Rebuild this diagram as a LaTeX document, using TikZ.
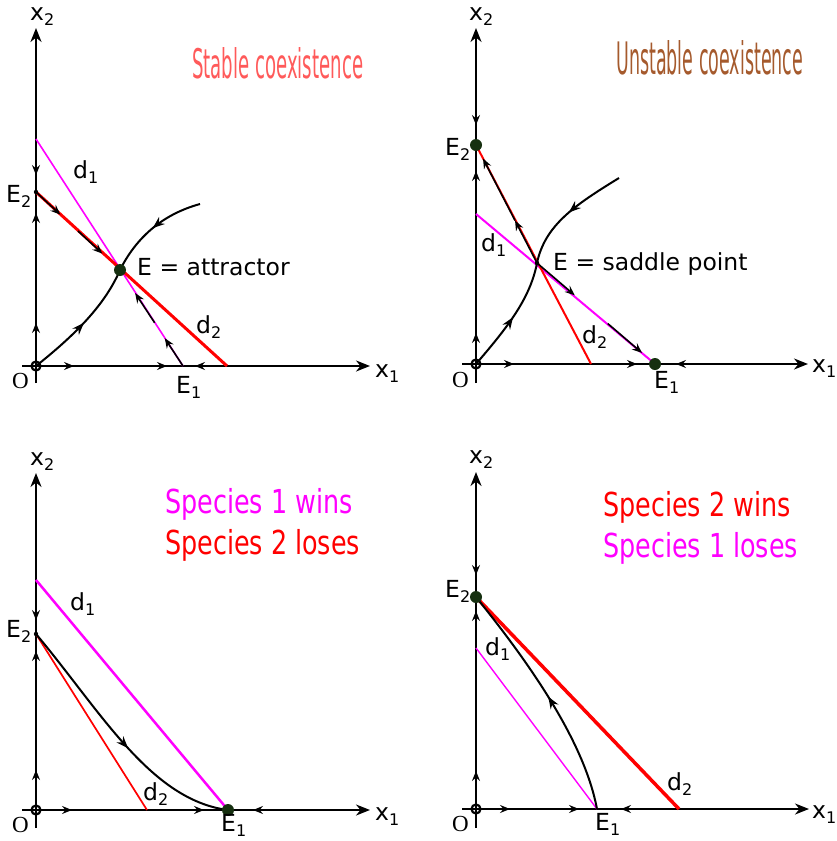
\documentclass[tikz,border=0pt]{standalone}
\usepackage{fontspec}
\setmainfont{DejaVu Sans}
\newfontfamily\oserif{Liberation Serif}
\usetikzlibrary{arrows.meta,decorations.markings,calc}
\definecolor{magc}{RGB}{255,0,255}
\definecolor{redc}{RGB}{255,0,0}
\definecolor{dotc}{RGB}{22,48,16}
\definecolor{stabc}{RGB}{255,90,90}
\definecolor{unstc}{RGB}{165,90,45}
\newcommand\sbs[1]{\raisebox{-0.22em}{\fontsize{16}{16}\selectfont #1}}
\newcommand\spec[1]{\scalebox{0.77}[1]{\fontsize{33}{33}\selectfont #1}}
\tikzset{
  axisline/.style={line width=2pt, -{Stealth[length=14pt,width=11pt,inset=4.5pt]}},
  tipmark/.style={line width=1.6pt, -{Stealth[length=10pt,width=8pt,inset=3.5pt]}},
  curveline/.style={line width=2pt},
  midarr/.style={postaction={decorate}, decoration={markings,
      mark=at position #1 with {\arrow{Stealth[length=12pt,width=9pt,inset=4pt]}}}},
  lbl/.style={font=\fontsize{23.5}{23.5}\selectfont, inner sep=0pt, anchor=base west},
  ovl/.style={font=\oserif\fontsize{23}{23}\selectfont, inner sep=0pt, anchor=base west},
  spc/.style={inner sep=0pt, anchor=base west},
  eqdot/.style={fill=dotc},
  smalldot/.style={fill=black},
  origin/.style={line width=2.2pt}
}
\begin{document}
\begin{tikzpicture}[x=1pt,y=-1pt]
\useasboundingbox (0,0) rectangle (837,841);

% ================= Panel A : stable coexistence =================
\coordinate (aO) at (36,366);
\coordinate (aE2) at (36,192);
\coordinate (aE1) at (183,366);
\coordinate (aE) at (120,270);
\coordinate (aD1) at (36,139);
\coordinate (aD2) at (227,366);
\coordinate (aC) at (200,204);
\coordinate (aYb) at (36,383);
\coordinate (aYt) at (36,28);
\coordinate (aXl) at (22,366);
\coordinate (aXr) at (370,366);
\draw[axisline] (aYb) -- (aYt);
\draw[axisline] (aXl) -- (aXr);
\draw[magc, line width=1.6pt] (aD1) -- (aE1);
\draw[redc, line width=3pt] (aE2) -- (aD2);
\draw[tipmark] (aE2) -- ($(aE2)!0.29!(aE)$);
\draw[tipmark] ($(aE2)!0.5!(aE)$) -- ($(aE2)!0.79!(aE)$);
\draw[tipmark] (aE1) -- ($(aE1)!0.29!(aE)$);
\draw[tipmark] ($(aE1)!0.45!(aE)$) -- ($(aE1)!0.76!(aE)$);
\draw[curveline, midarr=0.5] (aO) .. controls (75,335) and (105,305) .. (aE);
\draw[curveline, midarr=0.5] (aC) .. controls (160,215) and (135,240) .. (aE);
\draw[tipmark] (36,163) -- (36,175);
\draw[tipmark] (36,225) -- (36,213);
\draw[tipmark] (36,335) -- (36,323);
\draw[tipmark] (62,366) -- (74,366);
\draw[tipmark] (155,366) -- (167,366);
\draw[tipmark] (207,366) -- (195,366);
\draw[origin] (aO) circle[radius=4.5pt];
\fill[eqdot] (aE) circle[radius=6pt];
\fill[smalldot] (aE2) circle[radius=2.2pt];
\node[lbl] (ax2) at (30,20) {x\sbs{2}};
\node[lbl] (ax1) at (375,377) {x\sbs{1}};
\node[ovl] (aOl) at (12,388) {O};
\node[lbl] (aE2l) at (6,202) {E\sbs{2}};
\node[lbl] (aE1l) at (176,393) {E\sbs{1}};
\node[lbl] (ad1) at (73,178) {d\sbs{1}};
\node[lbl] (ad2) at (196,333) {d\sbs{2}};
\node[lbl] (aEl) at (137,275) {E = attractor};
\node[inner sep=0pt, anchor=south west, text=stabc] (atitle) at (192,79)
  {\resizebox{171pt}{31pt}{Stable coexistence}};

% ================= Panel B : unstable coexistence =================
\coordinate (bO) at (476,364);
\coordinate (bE2) at (476,145);
\coordinate (bE1) at (655,364);
\coordinate (bE) at (537,263);
\coordinate (bD1) at (476,214);
\coordinate (bD2) at (591,364);
\coordinate (bC) at (619,178);
\coordinate (bYb) at (476,383);
\coordinate (bYt) at (476,28);
\coordinate (bXl) at (462,364);
\coordinate (bXr) at (808,364);
\draw[axisline] (bYb) -- (bYt);
\draw[axisline] (bXl) -- (bXr);
\draw[magc, line width=2pt] (bD1) -- (bE1);
\draw[redc, line width=2pt] (bE2) -- (bD2);
\draw[tipmark] (bE) -- ($(bE)!0.36!(bE2)$);
\draw[tipmark] ($(bE)!0.36!(bE2)$) -- ($(bE)!0.885!(bE2)$);
\draw[tipmark] (bE) -- ($(bE)!0.32!(bE1)$);
\draw[tipmark] ($(bE)!0.6!(bE1)$) -- ($(bE)!0.89!(bE1)$);
\draw[curveline, midarr=0.5] (bO) .. controls (505,330) and (530,300) .. (bE);
\draw[curveline, midarr=0.5] (bC) .. controls (575,205) and (545,225) .. (bE);
\draw[tipmark] (476,113) -- (476,125);
\draw[tipmark] (476,183) -- (476,171);
\draw[tipmark] (476,345) -- (476,333);
\draw[tipmark] (502,364) -- (514,364);
\draw[tipmark] (625,364) -- (637,364);
\draw[tipmark] (688,364) -- (676,364);
\draw[origin] (bO) circle[radius=4.5pt];
\fill[eqdot] (bE2) circle[radius=6pt];
\fill[eqdot] (bE1) circle[radius=6pt];
\fill[smalldot] (bE) circle[radius=2.2pt];
\node[lbl] (bx2) at (469,20) {x\sbs{2}};
\node[lbl] (bx1) at (812,372) {x\sbs{1}};
\node[ovl] (bOl) at (452,387) {O};
\node[lbl] (bE2l) at (445,155) {E\sbs{2}};
\node[lbl] (bE1l) at (654,388) {E\sbs{1}};
\node[lbl] (bd1) at (481,251) {d\sbs{1}};
\node[lbl] (bd2) at (582,343) {d\sbs{2}};
\node[lbl] (bEl) at (553,270) {E = saddle point};
\node[inner sep=0pt, anchor=south west, text=unstc] (btitle) at (616,75)
  {\resizebox{187pt}{34pt}{Unstable coexistence}};

% ================= Panel C : species 1 wins =================
\coordinate (cO) at (36,810);
\coordinate (cE2) at (36,634);
\coordinate (cE1) at (228,810);
\coordinate (cD1) at (36,580);
\coordinate (cD2) at (147,810);
\coordinate (cYb) at (36,828);
\coordinate (cYt) at (36,473);
\coordinate (cXl) at (22,810);
\coordinate (cXr) at (370,810);
\draw[axisline] (cYb) -- (cYt);
\draw[axisline] (cXl) -- (cXr);
\draw[magc, line width=2.5pt] (cD1) -- (cE1);
\draw[redc, line width=1.7pt] (cE2) -- (cD2);
\draw[curveline, midarr=0.55] (cE2) .. controls (100,710) and (150,800) .. (cE1);
\draw[tipmark] (36,608) -- (36,620);
\draw[tipmark] (36,663) -- (36,651);
\draw[tipmark] (36,782) -- (36,770);
\draw[tipmark] (60,810) -- (72,810);
\draw[tipmark] (192,810) -- (204,810);
\draw[tipmark] (265,810) -- (253,810);
\draw[origin] (cO) circle[radius=4.5pt];
\fill[eqdot] (cE1) circle[radius=6pt];
\fill[smalldot] (cE2) circle[radius=2.2pt];
\node[lbl] (cx2) at (30,465) {x\sbs{2}};
\node[lbl] (cx1) at (375,820) {x\sbs{1}};
\node[ovl] (cOl) at (12,832) {O};
\node[lbl] (cE2l) at (6,637) {E\sbs{2}};
\node[lbl] (cE1l) at (221,831) {E\sbs{1}};
\node[lbl] (cd1) at (70,610) {d\sbs{1}};
\node[lbl] (cd2) at (143,800) {d\sbs{2}};
\node[spc, text=magc] (ct1) at (165,513) {\spec{Species 1 wins}};
\node[spc, text=redc] (ct2) at (165,554) {\spec{Species 2 loses}};

% ================= Panel D : species 2 wins =================
\coordinate (dO) at (476,809);
\coordinate (dE2) at (476,597);
\coordinate (dE1) at (597,809);
\coordinate (dD1) at (476,648);
\coordinate (dD2) at (679,809);
\coordinate (dYb) at (476,828);
\coordinate (dYt) at (476,472);
\coordinate (dXl) at (462,809);
\coordinate (dXr) at (809,809);
\draw[axisline] (dYb) -- (dYt);
\draw[axisline] (dXl) -- (dXr);
\draw[redc, line width=3.5pt] (dE2) -- (dD2);
\draw[magc, line width=1.4pt] (dD1) -- (dE1);
\draw[curveline, midarr=0.5] (dE1) .. controls (585,745) and (535,670) .. (dE2);
\draw[tipmark] (476,563) -- (476,575);
\draw[tipmark] (476,623) -- (476,611);
\draw[tipmark] (476,783) -- (476,771);
\draw[tipmark] (498,809) -- (510,809);
\draw[tipmark] (567,809) -- (579,809);
\draw[tipmark] (633,809) -- (621,809);
\draw[origin] (dO) circle[radius=4.5pt];
\fill[eqdot] (dE2) circle[radius=6pt];
\node[lbl] (dx2) at (469,463) {x\sbs{2}};
\node[lbl] (dx1) at (812,818) {x\sbs{1}};
\node[ovl] (dOl) at (452,831) {O};
\node[lbl] (dE2l) at (445,597) {E\sbs{2}};
\node[lbl] (dE1l) at (595,830) {E\sbs{1}};
\node[lbl] (dd1) at (485,655) {d\sbs{1}};
\node[lbl] (dd2) at (667,790) {d\sbs{2}};
\node[spc, text=redc] (dt1) at (603,516) {\spec{Species 2 wins}};
\node[spc, text=magc] (dt2) at (603,557) {\spec{Species 1 loses}};
\end{tikzpicture}
\end{document}
